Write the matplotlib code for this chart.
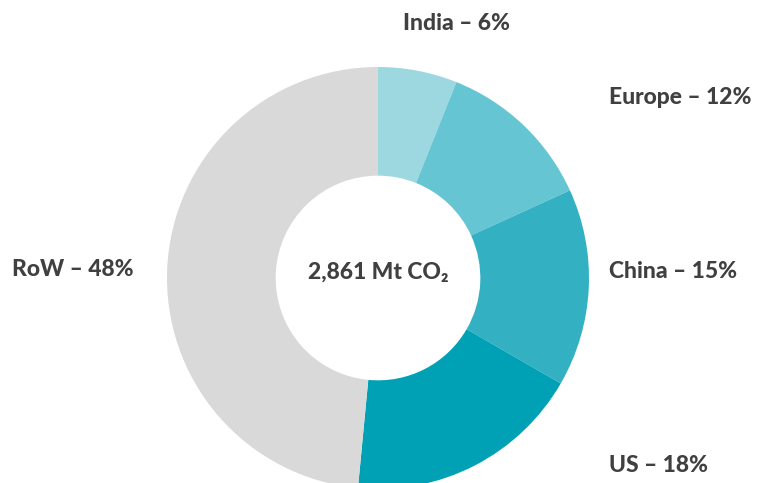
import matplotlib.pyplot as plt

regions = ["India", "Europe", "China", "US", "RoW"]
shares = [6, 12, 15, 18, 48]
colors = ["#9DD8E1", "#66C5D3", "#34B0C3", "#00A0B5", "#D9D9D9"]
total_label = "2,861 Mt CO\u2082"

W, H = 763, 483
fig = plt.figure(figsize=(W / 100, H / 100), dpi=100)
ax = fig.add_axes([0, 0, 1, 1])

cx, cy, r = 378, H - 278, 211
ax.pie(shares, colors=colors, startangle=90, counterclock=False,
       center=(cx, cy), radius=r, wedgeprops=dict(width=r * 0.515, linewidth=0),
       frame=True)
ax.set_xlim(0, W)
ax.set_ylim(0, H)
ax.set_aspect("equal")
ax.axis("off")

txt = dict(fontsize=16.5, fontweight=900, family=["Lato", "DejaVu Sans"],
           color="#404040", va="center")
# label anchor points (pixels from top-left)
label_pos = {"India": (403, 23), "Europe": (609, 97), "China": (609, 272),
             "US": (609, 466), "RoW": (12, 270)}
for name, val in zip(regions, shares):
    x, y = label_pos[name]
    ax.text(x, H - y, f"{name} \u2013 {val}%", ha="left", **txt)

ax.text(cx, H - 272, total_label, ha="center", **txt)

fig.savefig("out.png", dpi=100)
